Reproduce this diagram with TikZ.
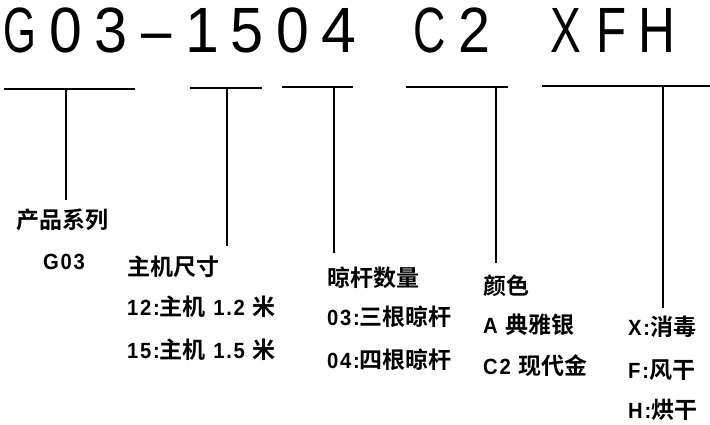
\documentclass[tikz,border=0pt]{standalone}
\usepackage{fontspec}
\usetikzlibrary{positioning}
\newfontfamily\titlefont{Liberation Sans}
\newfontfamily\cjk[BoldFont=* Bold]{Noto Sans CJK SC}
\newfontfamily\hwfont[LetterSpace=8,FakeStretch=0.92]{Liberation Sans}
\newcommand{\hw}[1]{{\hwfont\bfseries\fontsize{22}{22}\selectfont #1}}

\begin{document}
\begin{tikzpicture}[x=1pt,y=-1pt,
    code/.style={anchor=base,inner sep=0pt,font=\titlefont\fontsize{64}{64}\selectfont},
    lab/.style={anchor=west,inner sep=0pt,font=\cjk\bfseries\fontsize{23}{23}\selectfont},
    bar/.style={line width=1.8pt}]
\useasboundingbox (0,0) rectangle (710,425);
% model code, one narrow glyph per cell
\foreach \ch/\k/\s in {G/0/0.66,0/1/0.92,3/2/0.93,–/3/0.85,1/4/0.95,5/5/0.93,0/6/0.92,
    4/7/0.98,C/9/0.7,2/10/0.9,X/12/0.72,F/13/0.77,H/14/0.8}
    \node[code] (t\k) at (20+45.5*\k,53) {\scalebox{\s}[1]{\ch}};

% bars and drops
\coordinate (l1) at (4,89);   \coordinate (r1) at (135,89);
\coordinate (l2) at (190,88); \coordinate (r2) at (262,88);
\coordinate (l3) at (282,87); \coordinate (r3) at (353,87);
\coordinate (l4) at (406,87); \coordinate (r4) at (508,87);
\coordinate (l5) at (542,86); \coordinate (r5) at (710,86);
\coordinate (d1) at (66,89);  \coordinate (e1) at (66,200);
\coordinate (d2) at (227,88); \coordinate (e2) at (227,246);
\coordinate (d3) at (334,87); \coordinate (e3) at (334,253);
\coordinate (d4) at (496,87); \coordinate (e4) at (496,263);
\coordinate (d5) at (663,86); \coordinate (e5) at (663,308);
\foreach \i in {1,...,5} {
    \draw[bar] (l\i) -- (r\i);
    \draw[bar] (d\i) -- (e\i);
}

% labels
\node[lab] (series) at (16,220) {产品系列};
\node[lab,anchor=center] (g03) at (64,262) {\hw{G03}};

\node[lab] (size) at (127,267) {主机尺寸};
\node[lab] (size12) at (127,307) {\hw{12:}主机\hw{ 1.2 }米};
\node[lab] (size15) at (127,350) {\hw{15:}主机\hw{ 1.5 }米};

\node[lab] (rack) at (327,278) {晾杆数量};
\node[lab] (rack3) at (327,317) {\hw{03:}三根晾杆};
\node[lab] (rack4) at (327,360) {\hw{04:}四根晾杆};

\node[lab] (colour) at (483,286) {颜色};
\node[lab] (silver) at (483,325) {\hw{A }典雅银};
\node[lab] (gold) at (483,366) {\hw{C2 }现代金};

\node[lab] (optx) at (628,327) {\hw{X:}消毒};
\node[lab] (optf) at (628,370) {\hw{F:}风干};
\node[lab] (opth) at (628,410) {\hw{H:}烘干};
\end{tikzpicture}
\end{document}
